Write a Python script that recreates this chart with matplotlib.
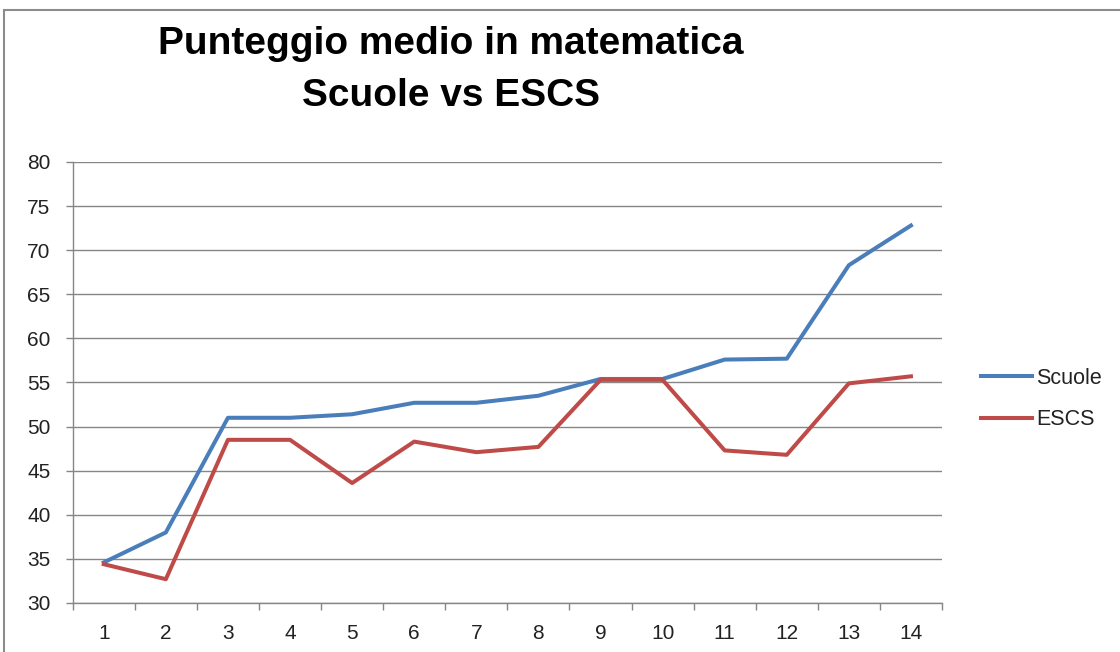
import matplotlib
matplotlib.use("Agg")
import matplotlib.pyplot as plt
from matplotlib.patches import Rectangle
import numpy as np

categories = list(range(1, 15))
scuole = [34.6, 38.0, 51.0, 51.0, 51.4, 52.7, 52.7, 53.5, 55.4, 55.4, 57.6, 57.7, 68.3, 72.8]
escs = [34.4, 32.7, 48.5, 48.5, 43.6, 48.3, 47.1, 47.7, 55.3, 55.3, 47.3, 46.8, 54.9, 55.7]
yticks = [30, 35, 40, 45, 50, 55, 60, 65, 70, 75, 80]
title_lines = ["Punteggio medio in matematica", "Scuole vs ESCS"]

plt.rcParams['font.family'] = ['Liberation Sans', 'DejaVu Sans']

fig = plt.figure(figsize=(11.2, 6.52), dpi=100)
fig.patch.set_facecolor('white')

# Chart area border (extends past the right and bottom edges)
fig.add_artist(Rectangle((4/1120, -0.1), 1.2, 1 - 10/652 + 0.1, transform=fig.transFigure,
                         fill=False, edgecolor='#8c8c8c', linewidth=1.5, clip_on=False))

ax = fig.add_axes([72.7/1120, 1 - 603/652, (942 - 72.7)/1120, (603 - 162)/652])
x = np.array(categories)
ax.plot(x, scuole, color='#4A7EBB', linewidth=2.9, label='Scuole')
ax.plot(x, escs, color='#BE4B48', linewidth=2.9, label='ESCS')

ax.set_xlim(0.5, 14.5)
ax.set_ylim(30, 80)
ax.set_yticks(yticks)
ax.set_yticklabels([str(v) for v in yticks])
ax.set_xticks(np.arange(0.5, 15, 1))
ax.set_xticklabels([])
ax.set_xticks(x, minor=True)
ax.set_xticklabels([str(c) for c in categories], minor=True)
ax.tick_params(axis='x', which='minor', length=0, pad=15, labelsize=15, colors='#222222')
ax.tick_params(axis='x', which='major', length=5, color='#868686', width=1)
ax.tick_params(axis='y', length=5, color='#868686', width=1, pad=11, labelsize=15, labelcolor='#222222')

ax.grid(axis='y', color='#868686', linewidth=1)
ax.set_axisbelow(True)
for s in ['top', 'right']:
    ax.spines[s].set_visible(False)
for s in ['left', 'bottom']:
    ax.spines[s].set_color('#868686')
    ax.spines[s].set_linewidth(1)

fig.text(451/1120, 1 - 44/652, title_lines[0], ha='center', va='center',
         fontsize=28, fontweight='bold')
fig.text(451/1120, 1 - 96/652, title_lines[1], ha='center', va='center',
         fontsize=28, fontweight='bold')

leg = ax.legend(loc='center left', bbox_to_anchor=(981/1120, 1 - 399/652), bbox_transform=fig.transFigure,
                frameon=False, fontsize=15.5, handlelength=2.35, handletextpad=0.2, labelspacing=0.95,
                borderaxespad=0, borderpad=0)
for t in leg.get_texts():
    t.set_color('#222222')

fig.savefig('out.png', dpi=100, facecolor='white')
